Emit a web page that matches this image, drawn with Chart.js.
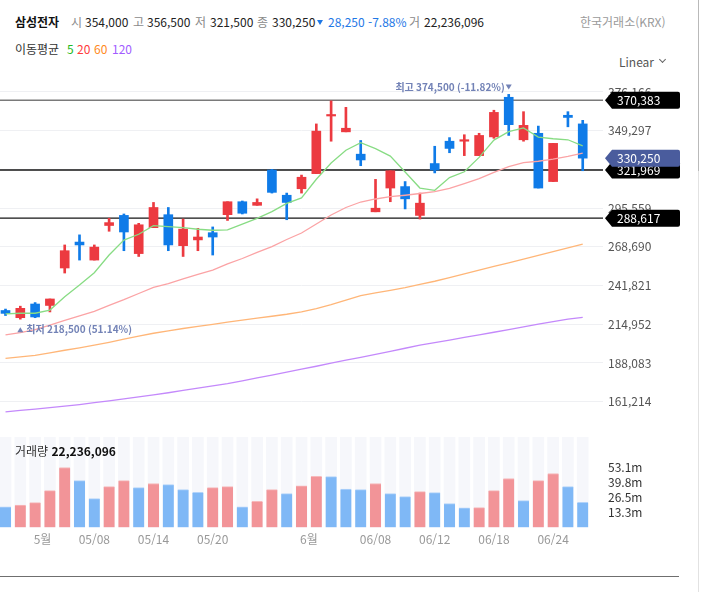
<!DOCTYPE html>
<html lang="ko">
<head>
<meta charset="utf-8">
<title>삼성전자 일봉</title>
<script src="https://cdn.jsdelivr.net/npm/chart.js@4.4.1/dist/chart.umd.min.js"></script>
<style>
  html, body { margin: 0; padding: 0; background: #fff; }
  body { position: relative; width: 701px; height: 592px; overflow: hidden;
         font-family: 'Noto Sans CJK KR', 'Noto Sans', sans-serif; color: #222; }
  .t { position: absolute; font-size: 12px; line-height: 16px; white-space: nowrap; }
  .k { color: #8a8a8a; }
  .b { font-weight: bold; color: #111; }
  .dn { color: #1f78e6; }
  .tri { position: absolute; width: 0; height: 0; border-left: 3px solid transparent;
         border-right: 3px solid transparent; border-top: 5px solid #1f78e6; }
  .chev { position: absolute; width: 4px; height: 4px; border-right: 1.3px solid #666;
          border-bottom: 1.3px solid #666; transform: rotate(45deg); }
  #priceChart { position: absolute; left: 0; top: 80px; }
  #volChart { position: absolute; left: 0; top: 430px; }
  #volTitle { top: 443px; left: 15px; color: #333; z-index: 2; }
  #rline { position: absolute; left: 698px; top: 0; width: 1px; height: 592px; background: #e2e2e2; }
  #rline2 { position: absolute; left: 698px; top: 0; width: 1px; height: 171px; background: #b9b9b9; }
  #bline { position: absolute; left: 0; top: 576px; width: 679px; height: 1px; background: #6f6f6f; }
</style>
</head>
<body>
<!-- 상단 시세 -->
<span class="t b" style="left:15px;top:14px">삼성전자</span>
<span class="t k" style="left:71px;top:14px">시</span><span class="t" style="left:85px;top:14px">354,000</span>
<span class="t k" style="left:133px;top:14px">고</span><span class="t" style="left:147px;top:14px">356,500</span>
<span class="t k" style="left:195px;top:14px">저</span><span class="t" style="left:210px;top:14px">321,500</span>
<span class="t k" style="left:257px;top:14px">종</span><span class="t" style="left:272px;top:14px">330,250</span>
<span class="tri" style="left:317px;top:20px"></span>
<span class="t dn" style="left:328px;top:14px">28,250 -7.88%</span>
<span class="t k" style="left:409px;top:14px">거</span><span class="t" style="left:424px;top:14px">22,236,096</span>
<span class="t" style="left:580px;top:14px;color:#9a9a9a">한국거래소(KRX)</span>

<span class="t" style="left:15px;top:41px;color:#333">이동평균</span>
<span class="t" style="left:67px;top:41px;color:#22bb22">5</span>
<span class="t" style="left:77px;top:41px;color:#ff3b3b">20</span>
<span class="t" style="left:94px;top:41px;color:#ff8a1c">60</span>
<span class="t" style="left:112px;top:41px;color:#a25cff">120</span>

<span class="t" style="left:619px;top:54px;color:#555">Linear</span>
<span class="chev" style="left:660px;top:57px"></span>

<canvas id="priceChart" width="701" height="350"></canvas>
<canvas id="volChart" width="701" height="130"></canvas>
<div id="volTitle" class="t">거래량 <b style="color:#111">22,236,096</b></div>
<div id="rline"></div>
<div id="rline2"></div>
<div id="bline"></div>

<script>
// 일봉 (04/28 ~ 06/26)
const dates = ['04/28','04/29','04/30','05/04','05/06','05/07','05/08','05/11','05/12','05/13',
  '05/14','05/15','05/18','05/19','05/20','05/21','05/22','05/26','05/27','05/28',
  '05/29','06/01','06/02','06/04','06/05','06/08','06/09','06/10','06/11','06/12',
  '06/15','06/16','06/17','06/18','06/19','06/22','06/23','06/24','06/25','06/26'];

const open  = [224500,219500,229000,228000,254000,272000,259500,283500,290500,264000,
  282000,291000,269500,273500,278500,291000,300000,297500,322000,304500,
  309000,319500,359500,348500,333000,293000,309500,310500,290500,326500,
  342000,342000,332000,345000,372500,343000,347500,314000,360000,354000];
const high  = [225500,227500,230000,232500,270000,277000,270000,288500,291500,285000,
  299500,296000,288000,281500,282500,300000,300500,302000,322500,306000,
  318500,354000,370000,365500,342500,315500,321500,314000,306000,338500,
  344500,346500,347500,363500,374500,362500,352500,340500,362500,356500];
const low   = [221000,218500,219500,223500,250500,259500,259500,279500,266000,262000,
  282000,266000,262000,266000,263000,287000,291500,297500,306000,287500,
  306000,319500,342000,348500,325000,293000,300000,295000,288000,320000,
  334000,332000,332000,344000,346000,342000,309500,314000,352000,321500];
const close = [222500,226000,220000,232500,266000,270000,268500,285500,279000,284000,
  296000,270000,281000,275500,275500,300000,292000,299500,306500,299500,
  317000,349000,360500,351000,329000,295500,321500,302000,299000,322000,
  337000,343000,346000,362000,353500,353000,309500,340500,358500,330250];

const volume = [18300000,19800000,21900000,32500000,52800000,41300000,25400000,36000000,41300000,35100000,
  38700000,37800000,33400000,31000000,35100000,36000000,18300000,23000000,33400000,29800000,
  36600000,45000000,44800000,33900000,33400000,38700000,29800000,27200000,31600000,30700000,
  21000000,17300000,17500000,32500000,43100000,23600000,41300000,47500000,36000000,22236096];

// 이동평균
const ma5   = [222100,222600,222600,224800,234100,242200,250700,263000,273400,277400,
  283400,282700,282000,280900,280200,280400,284500,288500,293100,298900,
  302600,315600,326900,335700,341000,336800,331700,320600,309500,307900,
  316800,320800,330800,342800,348600,351200,344900,343700,343000,338700];
const ma20  = [207600,209200,211300,214400,217600,220700,223900,228000,232000,236300,
  240500,243200,246400,249500,252600,256800,260600,264800,268900,273800,
  278300,284500,290800,296000,299800,301900,303500,304500,305700,307000,
  309200,312600,316100,320400,324400,327200,328100,329500,331400,333800];
const ma60  = [191300,192300,193400,195100,196900,198600,200400,202400,204600,206700,
  208700,210300,212000,213500,214900,216500,217800,219200,220500,221900,
  223600,225800,228500,231700,234900,236800,238500,240300,242600,244800,
  247300,249900,252500,255100,257600,260200,262800,265400,267900,270500];
const ma120 = [154200,155200,156100,157100,158100,159200,160500,161800,163200,164500,
  165900,167400,169000,170600,172200,173800,175700,177700,179700,181700,
  183800,185800,187900,190000,192000,194100,196200,198300,200400,202200,
  204000,205800,207600,209400,211300,213100,215000,216800,218500,219800];

const priceTicks = [161214,188083,214952,241821,268690,295559,322428,349297,376166];
const volTicks = [13275000,26550000,39825000,53100000];
const volTickLabels = ['13.3m','26.5m','39.8m','53.1m'];
const xTickPos = [2.5, 6, 10, 14, 20.5, 25, 29, 33, 37];
const xTickLabels = ['5월','05/08','05/14','05/20','6월','06/08','06/12','06/18','06/24'];

const levels = [370383, 321969, 288617];
const lastPrice = 330250;

const RED = '#ec3a40', BLUE = '#0f7be8';
const X_MIN = -0.372, X_MAX = 40.37;
const AXIS_W = 98;
const VOL_MAX = 79650000;
const FONT = "'Noto Sans CJK KR', 'Noto Sans', sans-serif";

Chart.defaults.font.family = FONT;
Chart.defaults.font.size = 12;
Chart.defaults.animation = false;

const idx = dates.map((d, i) => i);
const candleColor = idx.map(i => close[i] >= open[i] ? RED : BLUE);
// 거래량 색: 전일 거래량 대비
const volUp = idx.map(i => i > 0 && volume[i] > volume[i - 1]);
const volColor = volUp.map(u => u ? '#f29498' : '#7fb8f6');
const volTop = volUp.map(u => u ? '#f7b9bb' : '#b2d3fa');

const fmt = v => v.toLocaleString('en-US');

function maLine(data, color) {
  return {
    type: 'line', data: idx.map(i => ({ x: i, y: data[i] })),
    borderColor: color, borderWidth: 1.3, pointRadius: 0, tension: 0, order: 1
  };
}

function levelLine(v, color, w) {
  return {
    type: 'line', data: [{ x: X_MIN, y: v }, { x: X_MAX, y: v }],
    borderColor: color, borderWidth: w, pointRadius: 0, order: 10
  };
}

function tag(ctx, x, y, text, color) {
  const h = 17, tip = 7, w = 68, r = 2;
  ctx.save();
  ctx.fillStyle = color;
  ctx.beginPath();
  ctx.moveTo(x, y);
  ctx.lineTo(x + tip, y - h / 2);
  ctx.lineTo(x + tip + w - r, y - h / 2);
  ctx.quadraticCurveTo(x + tip + w, y - h / 2, x + tip + w, y - h / 2 + r);
  ctx.lineTo(x + tip + w, y + h / 2 - r);
  ctx.quadraticCurveTo(x + tip + w, y + h / 2, x + tip + w - r, y + h / 2);
  ctx.lineTo(x + tip, y + h / 2);
  ctx.closePath();
  ctx.fill();
  ctx.fillStyle = '#fff';
  ctx.font = '12px ' + FONT;
  ctx.textBaseline = 'middle';
  ctx.textAlign = 'left';
  ctx.fillText(text, x + tip + 5, y + 0.5);
  ctx.restore();
}

const markers = {
  id: 'markers',
  afterDraw(chart) {
    const { ctx, scales: { x, y }, chartArea } = chart;
    ctx.save();
    ctx.fillStyle = '#7282b6';
    ctx.font = 'bold 10px ' + FONT;
    ctx.textBaseline = 'middle';

    // 최고
    const hi = Math.max(...high), hiI = high.indexOf(hi);
    const hx = x.getPixelForValue(hiI), hy = y.getPixelForValue(hi) - 7;
    ctx.beginPath();
    ctx.moveTo(hx - 3, hy - 3); ctx.lineTo(hx + 3, hy - 3); ctx.lineTo(hx, hy + 2);
    ctx.fill();
    ctx.textAlign = 'right';
    ctx.fillText('최고 ' + fmt(hi) + ' (' + ((lastPrice - hi) / hi * 100).toFixed(2) + '%)', hx - 4, hy);

    // 최저
    const lo = Math.min(...low), loI = low.indexOf(lo);
    const lx = x.getPixelForValue(loI), ly = y.getPixelForValue(lo) + 10;
    ctx.beginPath();
    ctx.moveTo(lx - 3, ly + 3); ctx.lineTo(lx + 3, ly + 3); ctx.lineTo(lx, ly - 2);
    ctx.fill();
    ctx.textAlign = 'left';
    ctx.fillText('최저 ' + fmt(lo) + ' (' + ((lastPrice - lo) / lo * 100).toFixed(2) + '%)', lx + 6, ly);
    ctx.restore();

    const tx = chartArea.right + 2;
    levels.forEach(v => tag(ctx, tx, y.getPixelForValue(v), fmt(v), '#000'));
    tag(ctx, tx, y.getPixelForValue(lastPrice), fmt(lastPrice), '#4a5c9d');
  }
};

new Chart(document.getElementById('priceChart'), {
  type: 'bar',
  data: {
    datasets: [
      levelLine(levels[0], '#7a7a7a', 1.5),
      levelLine(levels[1], '#151515', 1.4),
      levelLine(levels[2], '#151515', 1.4),
      {
        data: idx.map(i => ({ x: i, y: [low[i], high[i]] })),
        backgroundColor: candleColor, barThickness: 2, grouped: false, order: 3
      },
      {
        data: idx.map(i => ({ x: i, y: [open[i], close[i]] })),
        backgroundColor: candleColor, barThickness: 9, minBarLength: 1.5, grouped: false, order: 2
      },
      maLine(ma5, '#88dc84'),
      maLine(ma20, '#fba3a5'),
      maLine(ma60, '#ffb678'),
      maLine(ma120, '#c489fb')
    ]
  },
  options: {
    responsive: false,
    layout: { padding: 0 },
    plugins: { legend: { display: false }, tooltip: { enabled: false } },
    scales: {
      x: { type: 'linear', min: X_MIN, max: X_MAX, offset: false, display: false },
      y: {
        type: 'linear', position: 'right', min: 141557, max: 384488,
        afterBuildTicks: s => { s.ticks = priceTicks.map(v => ({ value: v })); },
        afterFit: s => { s.width = AXIS_W; s.paddingTop = 0; s.paddingBottom = 0; },
        grid: { color: '#eff0f3', drawTicks: false },
        border: { display: false },
        ticks: { padding: 5, color: '#555', callback: v => fmt(v) }
      }
    }
  },
  plugins: [markers]
});

new Chart(document.getElementById('volChart'), {
  type: 'bar',
  data: {
    datasets: [
      {
        data: idx.map(i => ({ x: i, y: VOL_MAX })),
        backgroundColor: '#f6f7fb', barThickness: 11, grouped: false, order: 3
      },
      {
        data: idx.map(i => ({ x: i, y: volume[i] })),
        backgroundColor: volColor, borderColor: volTop,
        borderWidth: { top: 1, left: 0, right: 0, bottom: 0 },
        barThickness: 11, grouped: false, order: 2
      }
    ]
  },
  options: {
    responsive: false,
    layout: { padding: { top: 7 } },
    plugins: { legend: { display: false }, tooltip: { enabled: false } },
    scales: {
      x: {
        type: 'linear', min: X_MIN, max: X_MAX, offset: false,
        afterBuildTicks: s => { s.ticks = xTickPos.map(v => ({ value: v })); },
        afterFit: s => { s.height = 32.5; s.paddingLeft = 0; s.paddingRight = 0; },
        grid: { display: false, drawTicks: false },
        border: { display: false },
        ticks: { autoSkip: false, maxRotation: 0, padding: 5, color: '#999', callback: (v, i) => xTickLabels[i] }
      },
      y: {
        type: 'linear', position: 'right', min: 0, max: VOL_MAX,
        afterBuildTicks: s => { s.ticks = volTicks.map(v => ({ value: v })); },
        afterFit: s => { s.width = AXIS_W; s.paddingTop = 0; s.paddingBottom = 0; },
        grid: { display: false, drawTicks: false },
        border: { display: false },
        ticks: { padding: 5, color: '#333', callback: (v, i) => volTickLabels[i] }
      }
    }
  }
});
</script>
</body>
</html>
